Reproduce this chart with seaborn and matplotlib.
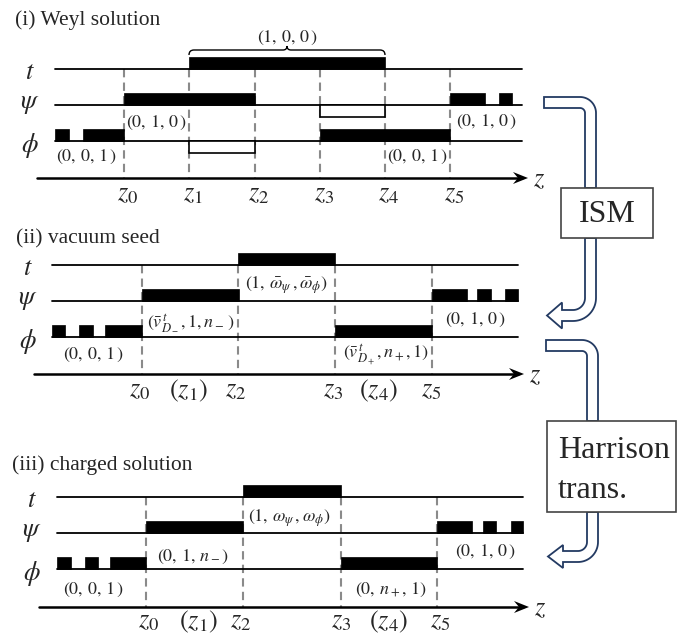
import matplotlib
matplotlib.use("Agg")
import matplotlib.pyplot as plt
import seaborn as sns
import pandas as pd
import numpy as np
from matplotlib.patches import Rectangle, PathPatch
from matplotlib.path import Path

sns.set_theme(style="white")
plt.rcParams['font.family'] = ['Liberation Serif', 'DejaVu Serif']
plt.rcParams['mathtext.fontset'] = 'stix'

# ---------------- data (pixel layout of the diagram) ----------------
titles = ["(i) Weyl solution", "(ii) vacuum seed", "(iii) charged solution"]
title_xy = [(15, 20), (16, 239), (12, 465)]
row_names = [r"$t$", r"$\psi$", r"$\phi$"]
row_label_x = [30, 28, 32]
line_y = [[69, 105, 141], [265, 301, 337], [497, 533, 569]]
line_x0 = [55, 52, 57]
line_x1 = [522, 518, 523]
axis_y = [178, 374, 607]
axis_x0 = [37, 34, 39]
axis_tip = [528, 524, 529]
dash_x = [[124, 189, 255, 320, 385, 450], [142, 238, 335, 432], [146, 243, 341, 437]]

# filled blocks: (panel, row, x_start, x_end)
filled = [
    (0, 0, 189, 385),
    (0, 1, 124, 255), (0, 1, 450, 485), (0, 1, 499, 512),
    (0, 2, 55, 69), (0, 2, 83, 124), (0, 2, 320, 450),
    (1, 0, 238, 335),
    (1, 1, 142, 239), (1, 1, 432, 467), (1, 1, 477, 491), (1, 1, 505, 518),
    (1, 2, 52, 65), (1, 2, 79, 93), (1, 2, 105, 142), (1, 2, 335, 432),
    (2, 0, 243, 341),
    (2, 1, 146, 243), (2, 1, 437, 472), (2, 1, 483, 496), (2, 1, 511, 523),
    (2, 2, 57, 71), (2, 2, 85, 98), (2, 2, 110, 146), (2, 2, 341, 437),
]
# hollow blocks below the line: (panel, row, x_start, x_end)
hollow = [(0, 1, 320, 385), (0, 2, 189, 255)]

# tuple labels: (text, x, y, ha)
tuple_labels = [
    (r"$(1,\,0,\,0\,)$", 287, 38, "center"),
    (r"$(0,\,1,\,0\,)$", 126, 123, "left"),
    (r"$(0,\,0,\,1\,)$", 56, 157, "left"),
    (r"$(0,\,1,\,0\,)$", 456, 122, "left"),
    (r"$(0,\,0,\,1\,)$", 387, 157, "left"),
    (r"$(1,\,\bar{\omega}_\psi\,,\bar{\omega}_\phi)$", 245, 285, "left"),
    (r"$(\bar{v}^{\,t}_{D_-},1,n_-\,)$", 147, 323, "left"),
    (r"$(0,\,0,\,1\,)$", 63, 355, "left"),
    (r"$(0,\,1,\,0\,)$", 445, 320, "left"),
    (r"$(\bar{v}^{\,t}_{D_+},n_+,1)$", 343, 355, "left"),
    (r"$(1,\,\omega_\psi\,,\omega_\phi)$", 248, 518, "left"),
    (r"$(0,\,1,\,n_-)$", 157, 557, "left"),
    (r"$(0,\,0,\,1\,)$", 63, 590, "left"),
    (r"$(0,\,1,\,0\,)$", 455, 552, "left"),
    (r"$(0,\,n_+,\,1)$", 355, 590, "left"),
]

# z tick labels per panel: (text, x)
z_ticks = [
    [(r"$z_0$", 128), (r"$z_1$", 193), (r"$z_2$", 259), (r"$z_3$", 324), (r"$z_4$", 389), (r"$z_5$", 454)],
    [(r"$z_0$", 140), (r"$(z_1)$", 188), (r"$z_2$", 236), (r"$z_3$", 333), (r"$(z_4)$", 378), (r"$z_5$", 431)],
    [(r"$z_0$", 149), (r"$(z_1)$", 198), (r"$z_2$", 241), (r"$z_3$", 341), (r"$(z_4)$", 388), (r"$z_5$", 440)],
]
z_tick_y = [195, 391, 622]

bar_h = 12.5
hollow_h = 12

fig = plt.figure(figsize=(6.78, 6.37), dpi=100)
ax = fig.add_axes([0, 0, 1, 1])

# baselines with seaborn
rows = []
for p in range(3):
    for r in range(3):
        uid = f"{p}-{r}"
        rows.append(dict(x=line_x0[p], y=line_y[p][r], u=uid))
        rows.append(dict(x=line_x1[p], y=line_y[p][r], u=uid))
df = pd.DataFrame(rows)
sns.lineplot(data=df, x="x", y="y", units="u", estimator=None, sort=False,
             color="black", lw=1.3, ax=ax, legend=False)
ax.set_xlim(0, 678)
ax.set_ylim(637, 0)
ax.axis("off")

# dashed verticals
for p in range(3):
    for xd in dash_x[p]:
        ax.plot([xd, xd], [line_y[p][0], axis_y[p]], color="#8a8a8a", lw=1.5,
                ls=(0, (4, 2.5)), zorder=1)

# filled blocks
for p, r, a, b in filled:
    ax.bar(a, -bar_h, width=b - a, bottom=line_y[p][r], align="edge",
           color="black", edgecolor="black", lw=0.5, zorder=3)
for p, r, a, b in hollow:
    ax.bar(a, hollow_h, width=b - a, bottom=line_y[p][r], align="edge",
           color="white", edgecolor="black", lw=1.2, zorder=3)

# z axes with arrows
for p in range(3):
    y = axis_y[p]
    ax.plot([axis_x0[p], axis_tip[p] - 6], [y, y], color="black", lw=1.8, zorder=2)
    t = axis_tip[p]
    ax.fill([t, t - 15, t - 10, t - 15], [y, y - 6, y, y + 6], color="black", lw=0, zorder=4)
    ax.text(t + 11, y + 2, r"$z$", fontsize=19, ha="center", va="center")

# titles
for (tx, ty), s in zip(title_xy, titles):
    ax.text(tx, ty, s, fontsize=15.5, ha="left", va="center")

# row labels
for p in range(3):
    for r in range(3):
        dy = [4, 0, 4][r]
        ax.text(row_label_x[p], line_y[p][r] + dy, row_names[r], fontsize=19,
                ha="center", va="center")

# tuple labels
for s, x, y, ha in tuple_labels:
    ax.text(x, y, s, fontsize=13, ha=ha, va="center", zorder=5)

# z tick labels
for p in range(3):
    for s, x in z_ticks[p]:
        ax.text(x, z_tick_y[p], s, fontsize=19, ha="center", va="center")

# brace over (1,0,0)
bx0, bx1, by, bm = 189, 385, 50, 287
verts = [(bx0, 55), (bx0, by), (bx0 + 5, by), (bm - 4, by), (bm, by), (bm, by - 4),
         (bm, by), (bm + 4, by), (bx1 - 5, by), (bx1, by), (bx1, 55)]
codes = [Path.MOVETO, Path.CURVE3, Path.CURVE3, Path.LINETO, Path.CURVE3, Path.CURVE3,
         Path.CURVE3, Path.CURVE3, Path.LINETO, Path.CURVE3, Path.CURVE3]
ax.add_patch(PathPatch(Path(verts, codes), fill=False, lw=1.0, color="black"))

# boxes
ax.add_patch(Rectangle((561, 188), 92, 50, fill=True, facecolor="white",
                       edgecolor="#444444", lw=1.2, zorder=3))
ax.text(607, 214, "ISM", fontsize=23, ha="center", va="center", zorder=4)
ax.add_patch(Rectangle((547, 421), 129, 91, fill=True, facecolor="white",
                       edgecolor="#444444", lw=1.2, zorder=3))
ax.text(558, 450, "Harrison", fontsize=23, ha="left", va="center", zorder=4)
ax.text(558, 490, "trans.", fontsize=23, ha="left", va="center", zorder=4)

arrow_col = "#233a62"


def arc(cx, cy, r, a0, a1, n=20):
    ang = np.radians(np.linspace(a0, a1, n))
    return [(cx + r * np.cos(a), cy + r * np.sin(a)) for a in ang]


def hook_down(xl, yt, w, xv0, ro, ybot):
    xv1 = xv0 + w
    cx, cy = xv1 - ro, yt + ro
    ri = ro - w
    pts = [(xl, yt), (cx, yt)]
    pts += arc(cx, cy, ro, -90, 0)
    pts += [(xv1, ybot), (xv0, ybot)]
    pts += arc(cx, cy, ri, 0, -90)
    pts += [(xl, yt + w)]
    return pts


def arrow_left(xv0, w, ytop, cy, ro, base_x, tip_x, half):
    xv1 = xv0 + w
    cx = xv1 - ro
    ri = ro - w
    ybo = cy + ro
    ybi = cy + ri
    ym = (ybo + ybi) / 2
    pts = [(xv0, ytop), (xv1, ytop), (xv1, cy)]
    pts += arc(cx, cy, ro, 0, 90)
    pts += [(base_x, ybo), (base_x, ym + half), (tip_x, ym), (base_x, ym - half), (base_x, ybi)]
    pts += arc(cx, cy, ri, 90, 0)
    return pts


shapes = [
    hook_down(544, 97, 11, 585, 16, 188),
    arrow_left(585, 11, 238, 298, 23, 562, 547, 13),
    hook_down(546, 340, 11, 587, 16, 421),
    arrow_left(587, 11, 512, 542, 20, 563, 548, 11.5),
]
for pts in shapes:
    xs, ys = zip(*pts)
    ax.fill(xs, ys, facecolor="white", edgecolor=arrow_col, lw=1.3, zorder=2)

fig.savefig("out.png", dpi=100)
